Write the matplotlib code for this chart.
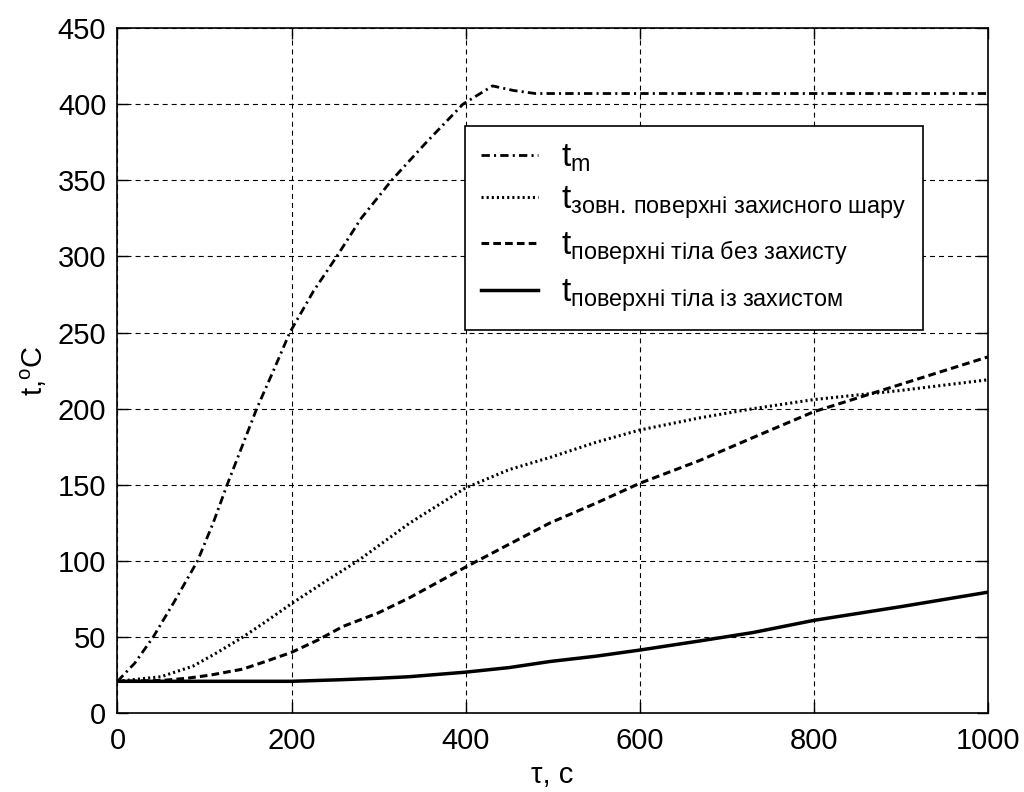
import matplotlib
matplotlib.use("Agg")
import matplotlib.pyplot as plt

plt.rcParams["font.family"] = ["Liberation Sans", "DejaVu Sans"]
plt.rcParams["mathtext.fontset"] = "custom"
plt.rcParams["mathtext.rm"] = "Liberation Sans"
plt.rcParams["mathtext.it"] = "Liberation Sans"
plt.rcParams["lines.scale_dashes"] = False

# temperature of the medium (dash-dot)
tau_m = [0, 20, 41, 65, 92, 110, 126, 143, 160, 180, 198, 225, 252, 280, 315, 355,
         397, 431, 455, 480, 600, 800, 1000]
t_m = [21, 33, 50, 73, 100, 125, 150, 175, 200, 226, 250, 277, 300, 325, 350, 375,
       400, 412, 409, 407, 407, 407, 407]

# outer surface of the protective layer (dotted)
tau_layer = [0, 50, 87, 115, 144, 170, 200, 240, 276, 336, 400, 450, 497, 550, 600,
             669, 730, 800, 900, 1000]
t_layer = [21, 24, 31, 40, 50, 60, 72, 87, 100, 125, 148, 160, 168, 178, 186,
           194, 200, 206, 212, 219]

# body surface without protection (dashed)
tau_bare = [0, 50, 80, 106, 144, 170, 200, 230, 259, 300, 336, 400, 450, 497, 550,
            600, 669, 730, 800, 900, 1000]
t_bare = [21, 21.5, 23, 25, 29, 34, 40, 48, 57, 66, 76, 96, 111, 125, 138,
          151, 166, 181, 198, 216, 234]

# body surface with protection (solid)
tau_prot = [0, 100, 200, 255, 300, 335, 400, 450, 497, 550, 600, 669, 730, 800, 900, 1000]
t_prot = [21, 21, 21, 22, 23, 24, 27, 30, 34, 37.5, 41.5, 47.5, 53, 61, 70, 79.5]

labels = [
    r"$\mathrm{t}_{\mathrm{m}}$",
    r"$\mathrm{t}_{\mathrm{зовн.\,поверхні\ захисного\ шару}}$",
    r"$\mathrm{t}_{\mathrm{поверхні\ тіла\ без\ захисту}}$",
    r"$\mathrm{t}_{\mathrm{поверхні\ тіла\ із\ захистом}}$",
]

fig = plt.figure(figsize=(10.24, 7.92), dpi=100)
ax = fig.add_axes([0.1147, 0.0994, 0.8499, 0.8652])

ax.plot(tau_m, t_m, color="black", lw=2.0, ls=(0, (6, 3, 1.5, 3)), label=labels[0])
ax.plot(tau_layer, t_layer, color="black", lw=2.2, ls=(0, (1.5, 2.2)), label=labels[1])
ax.plot(tau_bare, t_bare, color="black", lw=2.2, ls=(0, (5.5, 3)), label=labels[2])
ax.plot(tau_prot, t_prot, color="black", lw=2.5, ls="-", label=labels[3])

ax.set_xlim(0, 1000)
ax.set_ylim(0, 450)
ax.set_xticks(range(0, 1001, 200))
ax.set_yticks(range(0, 451, 50))

ax.grid(True, color="black", lw=0.8, ls=(0, (3.6, 2.9)))
ax.tick_params(direction="in", length=8, width=1, top=True, right=True,
               labelsize=21, colors="black")
ax.tick_params(axis="x", pad=10)
ax.tick_params(axis="y", pad=8)
for s in ax.spines.values():
    s.set_linewidth(1.2)

ax.set_xlabel("τ, с", fontsize=21, labelpad=4)
ax.set_ylabel(r"$\mathrm{t{,}^{o}C}$", fontsize=21, labelpad=6)

leg = ax.legend(loc="upper left", bbox_to_anchor=(0.399, 0.857), borderaxespad=0,
                fontsize=24, fancybox=False, framealpha=1, edgecolor="black",
                handlelength=1.7, labelspacing=0.3, borderpad=0.5,
                handletextpad=0.7)
leg.get_frame().set_linewidth(1.2)

fig.savefig("out.png", dpi=100)
